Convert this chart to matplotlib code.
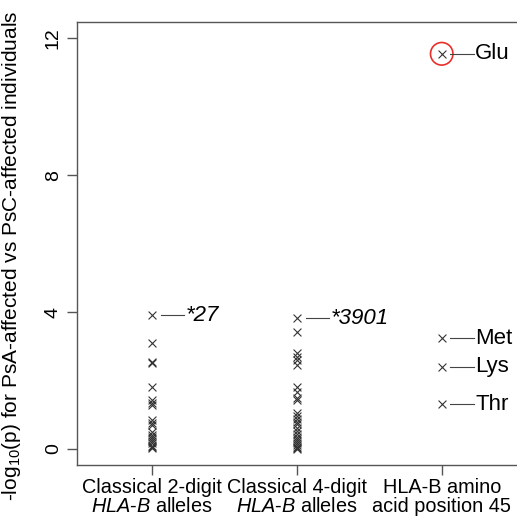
import matplotlib
matplotlib.use('Agg')
import matplotlib.pyplot as plt
from matplotlib.patches import Ellipse

plt.rcParams['font.family'] = ['Liberation Sans', 'DejaVu Sans']
plt.rcParams['mathtext.fontset'] = 'custom'
plt.rcParams['mathtext.rm'] = 'Liberation Sans'
plt.rcParams['mathtext.it'] = 'Liberation Sans:italic'

# valores -log10(p) por grupo
alelos_2d = [3.91, 3.09, 2.55, 2.50, 1.80, 1.43, 1.35, 1.28, 0.85, 0.76, 0.70,
             0.50, 0.42, 0.35, 0.28, 0.22, 0.16, 0.10, 0.05, 0.02]
alelos_4d = [3.82, 3.43, 2.80, 2.70, 2.60, 2.45, 1.82, 1.65, 1.50, 1.42, 1.05,
             0.95, 0.88, 0.80, 0.72, 0.62, 0.52, 0.44, 0.36, 0.30, 0.24, 0.18,
             0.12, 0.07, 0.03, 0.01]
aminoacidos = ['Glu', 'Met', 'Lys', 'Thr']
valores_aa = [11.55, 3.24, 2.40, 1.30]

etiquetas_x = ['Classical 2-digit\n$\\mathit{HLA}$-$\\mathit{B}$ alleles',
               'Classical 4-digit\n$\\mathit{HLA}$-$\\mathit{B}$ alleles',
               'HLA-B amino\nacid position 45']

fig = plt.figure(figsize=(5.17, 5.19), dpi=100)
ax = fig.add_axes([0.149, 0.104, 0.851, 0.853])

mk = dict(marker='x', color='#333333', s=32, linewidths=0.8)
ax.scatter([1] * len(alelos_2d), alelos_2d, **mk)
ax.scatter([2] * len(alelos_4d), alelos_4d, **mk)
ax.scatter([3] * len(valores_aa), valores_aa, **mk)

# etiquetas con linea
def etiqueta(x, y, txt, estilo='normal'):
    ax.plot([x + 0.06, x + 0.22], [y, y], color='#444444', lw=0.8)
    ax.text(x + 0.232, y, txt, fontsize=16, va='center', ha='left',
            style=estilo)

etiqueta(1, max(alelos_2d), '*27', 'italic')
etiqueta(2, max(alelos_4d), '*3901', 'italic')
for aa, v in zip(aminoacidos, valores_aa):
    etiqueta(3, v, aa)

# circulo rojo alrededor de Glu
circ = Ellipse((3, valores_aa[0]), width=0.155, height=0.66, fill=False,
               edgecolor='#e8302a', lw=1.2)
ax.add_patch(circ)

ax.set_xlim(0.481, 3.52)
ax.set_ylim(-0.47, 12.47)
ax.set_yticks([0, 4, 8, 12])
ax.set_yticklabels(['0', '4', '8', '12'], rotation=90, va='center', fontsize=14)
ax.set_xticks([1, 2, 3])
ax.set_xticklabels(etiquetas_x, fontsize=14.3, linespacing=1.0)
ax.tick_params(axis='both', length=7, color='#555555', width=1)
ax.tick_params(axis='y', pad=4)
ax.tick_params(axis='x', pad=2)
ax.set_ylabel('-log$_{10}$(p) for PsA-affected vs PsC-affected individuals',
              fontsize=15)
ax.yaxis.set_label_coords(-0.123, 0.472)
ax.spines['right'].set_visible(False)
for s in ['left', 'top', 'bottom']:
    ax.spines[s].set_color('#555555')
    ax.spines[s].set_linewidth(1)

fig.savefig('out.png', dpi=100)
